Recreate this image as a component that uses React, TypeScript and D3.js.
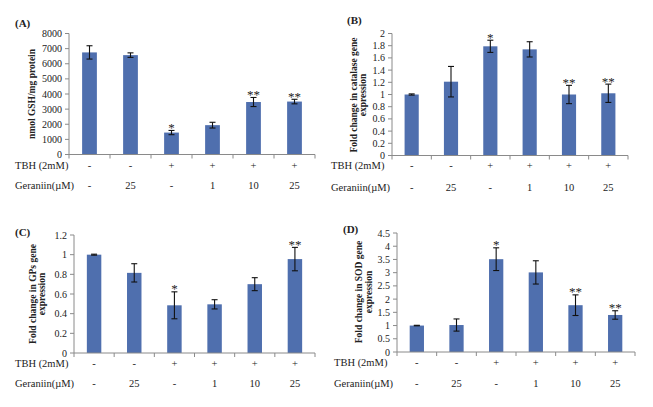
import React from "react";
import * as d3 from "d3";

// ---- data ----
const tbhRow = ["-", "-", "+", "+", "+", "+"];
const geraniinRow = ["-", "25", "-", "1", "10", "25"];

const gshValues = [6750, 6570, 1450, 1940, 3470, 3500];
const gshErrors = [440, 150, 140, 190, 300, 150];
const gshStars = ["", "", "*", "", "**", "**"];

const catValues = [1.0, 1.21, 1.79, 1.74, 1.0, 1.02];
const catErrors = [0.01, 0.25, 0.1, 0.125, 0.15, 0.15];
const catStars = ["", "", "*", "", "**", "**"];

const gpxValues = [1.0, 0.815, 0.485, 0.495, 0.7, 0.955];
const gpxErrors = [0.005, 0.093, 0.137, 0.047, 0.066, 0.119];
const gpxStars = ["", "", "*", "", "", "**"];

const sodValues = [1.0, 1.02, 3.51, 3.01, 1.77, 1.4];
const sodErrors = [0.01, 0.23, 0.43, 0.44, 0.39, 0.16];
const sodStars = ["", "", "*", "", "**", "**"];

const rowLabels = ["TBH (2mM)", "Geraniin(\u00b5M)"];

// ---- panels ----
const fmt = (d: number) => String(+d.toFixed(2));

const panels = [
  {
    tag: "(A)", values: gshValues, errors: gshErrors, stars: gshStars,
    max: 8000, step: 1000, title: ["nmol GSH/mg protein"],
    L: { x0: 69, x1: 315, y0: 154.5, y1: 33.5, tagX: 15, tagY: 23, titleX: [32], titleY: 94, rowX: 15, tbhY: 165, gerY: 185.5 },
  },
  {
    tag: "(B)", values: catValues, errors: catErrors, stars: catStars,
    max: 2, step: 0.2, title: ["Fold change in catalase gene", "expression"],
    L: { x0: 392, x1: 628, y0: 155.5, y1: 33.5, tagX: 347, tagY: 20, titleX: [354, 363], titleY: 95, rowX: 331, tbhY: 165.5, gerY: 187 },
  },
  {
    tag: "(C)", values: gpxValues, errors: gpxErrors, stars: gpxStars,
    max: 1.2, step: 0.2, title: ["Fold change in GPs gene", "expression"],
    L: { x0: 74, x1: 315, y0: 353, y1: 235, tagX: 15, tagY: 232, titleX: [33, 42], titleY: 294, rowX: 15, tbhY: 363, gerY: 383 },
  },
  {
    tag: "(D)", values: sodValues, errors: sodErrors, stars: sodStars,
    max: 4.5, step: 0.5, title: ["Fold change in SOD gene", "expression"],
    L: { x0: 397, x1: 635, y0: 352, y1: 233, tagX: 343, tagY: 229, titleX: [359, 369], titleY: 292, rowX: 334, tbhY: 362.5, gerY: 383 },
  },
];

const BAR = "#4f6fae";
const AXIS = "#8a8a8a";
const TEXT = "#222";
const SERIF = "Liberation Serif, Times New Roman, serif";

function Panel({ p }: { p: (typeof panels)[number] }) {
  const L = p.L;
  const idx = p.values.map((_, i) => i);
  const x = d3.scaleBand<number>().domain(idx).range([L.x0, L.x1]).padding(0);
  const y = d3.scaleLinear().domain([0, p.max]).range([L.y0, L.y1]);
  const ticks = d3.range(0, p.max + p.step / 2, p.step);
  const bw = x.bandwidth() * 0.36;
  const cx = (i: number) => (x(i) as number) + x.bandwidth() / 2;
  const bounds = d3.range(0, idx.length + 1).map((i) => L.x0 + i * x.step());
  return (
    <g>
      <text x={L.tagX} y={L.tagY} dominantBaseline="central" fontFamily={SERIF} fontWeight="bold" fontSize={11} fill={TEXT}>
        {p.tag}
      </text>
      {p.title.map((t, k) => (
        <text key={k} transform={`translate(${L.titleX[k]},${L.titleY}) rotate(-90)`} textAnchor="middle" dy="0.35em"
          fontFamily={SERIF} fontWeight="bold" fontSize={9.5} fill={TEXT}>
          {t}
        </text>
      ))}
      {/* bars */}
      {idx.map((i) => (
        <rect key={i} x={cx(i) - bw / 2} y={y(p.values[i])} width={bw} height={y(0) - y(p.values[i])} fill={BAR} />
      ))}
      {/* error bars */}
      {idx.map((i) => {
        const hi = y(p.values[i] + p.errors[i]);
        const lo = y(p.values[i] - p.errors[i]);
        return (
          <g key={i} stroke="#111" strokeWidth={1.1}>
            <line x1={cx(i)} x2={cx(i)} y1={hi} y2={lo} />
            <line x1={cx(i) - 3} x2={cx(i) + 3} y1={hi} y2={hi} />
            <line x1={cx(i) - 3} x2={cx(i) + 3} y1={lo} y2={lo} />
          </g>
        );
      })}
      {/* stars */}
      {idx.map((i) =>
        p.stars[i] ? (
          <text key={i} x={cx(i)} y={y(p.values[i] + p.errors[i]) + 1.5} textAnchor="middle" fontFamily={SERIF} fontSize={13} fill="#222">
            {p.stars[i]}
          </text>
        ) : null
      )}
      {/* y axis */}
      <line x1={L.x0} x2={L.x0} y1={y(0)} y2={y(p.max)} stroke={AXIS} />
      {ticks.map((t, k) => (
        <g key={k}>
          <line x1={L.x0 - 4} x2={L.x0} y1={y(t)} y2={y(t)} stroke={AXIS} />
          <text x={L.x0 - 7} y={y(t)} textAnchor="end" dominantBaseline="central" fontFamily={SERIF} fontSize={10} fill={TEXT}>
            {fmt(t)}
          </text>
        </g>
      ))}
      {/* x axis */}
      <line x1={L.x0} x2={L.x1} y1={y(0)} y2={y(0)} stroke={AXIS} />
      {bounds.map((b, k) => (
        <line key={k} x1={b} x2={b} y1={y(0)} y2={y(0) + 4} stroke={AXIS} />
      ))}
      {/* rows */}
      <text x={L.rowX} y={L.tbhY} dominantBaseline="central" fontFamily={SERIF} fontSize={10.5} fill={TEXT}>
        {rowLabels[0]}
      </text>
      <text x={L.rowX} y={L.gerY} dominantBaseline="central" fontFamily={SERIF} fontSize={10.5} fill={TEXT}>
        {rowLabels[1]}
      </text>
      {idx.map((i) => (
        <g key={i}>
          <text x={cx(i)} y={L.tbhY} textAnchor="middle" dominantBaseline="central" fontFamily={SERIF} fontSize={10.5} fill={TEXT}>
            {tbhRow[i]}
          </text>
          <text x={cx(i)} y={L.gerY} textAnchor="middle" dominantBaseline="central" fontFamily={SERIF} fontSize={10.5} fill={TEXT}>
            {geraniinRow[i]}
          </text>
        </g>
      ))}
    </g>
  );
}

export default function App() {
  return (
    <svg width={653} height={407} style={{ position: "absolute", left: 0, top: 0, background: "#fff" }}>
      {panels.map((p, k) => (
        <Panel key={k} p={p} />
      ))}
    </svg>
  );
}
